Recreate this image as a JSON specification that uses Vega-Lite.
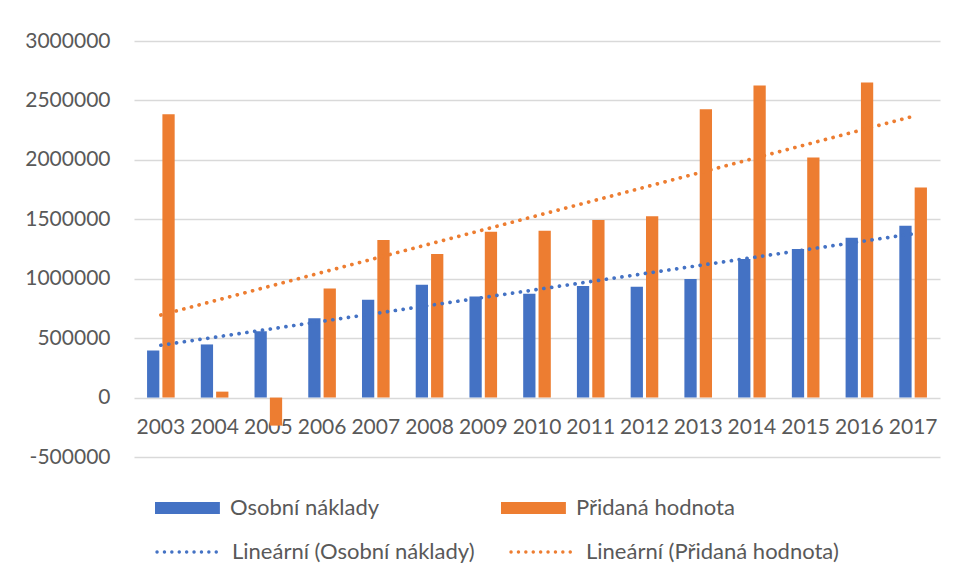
{
  "$schema": "https://vega.github.io/schema/vega-lite/v6.json",
  "width": 806,
  "height": 416,
  "autosize": {"type": "none"},
  "padding": {"left": 134, "top": 41, "right": 17, "bottom": 124},
  "background": "white",
  "config": {
    "view": {"stroke": null},
    "font": "Lato"
  },
  "data": {
    "values": [
      {"year": 2003, "series": "Osobní náklady", "value": 396000},
      {"year": 2004, "series": "Osobní náklady", "value": 447000},
      {"year": 2005, "series": "Osobní náklady", "value": 559000},
      {"year": 2006, "series": "Osobní náklady", "value": 668000},
      {"year": 2007, "series": "Osobní náklady", "value": 823000},
      {"year": 2008, "series": "Osobní náklady", "value": 949000},
      {"year": 2009, "series": "Osobní náklady", "value": 851000},
      {"year": 2010, "series": "Osobní náklady", "value": 873000},
      {"year": 2011, "series": "Osobní náklady", "value": 938000},
      {"year": 2012, "series": "Osobní náklady", "value": 932000},
      {"year": 2013, "series": "Osobní náklady", "value": 997000},
      {"year": 2014, "series": "Osobní náklady", "value": 1165000},
      {"year": 2015, "series": "Osobní náklady", "value": 1249000},
      {"year": 2016, "series": "Osobní náklady", "value": 1345000},
      {"year": 2017, "series": "Osobní náklady", "value": 1446000},
      {"year": 2003, "series": "Přidaná hodnota", "value": 2384000},
      {"year": 2004, "series": "Přidaná hodnota", "value": 50000},
      {"year": 2005, "series": "Přidaná hodnota", "value": -236000},
      {"year": 2006, "series": "Přidaná hodnota", "value": 918000},
      {"year": 2007, "series": "Přidaná hodnota", "value": 1325000},
      {"year": 2008, "series": "Přidaná hodnota", "value": 1207000},
      {"year": 2009, "series": "Přidaná hodnota", "value": 1396000},
      {"year": 2010, "series": "Přidaná hodnota", "value": 1404000},
      {"year": 2011, "series": "Přidaná hodnota", "value": 1494000},
      {"year": 2012, "series": "Přidaná hodnota", "value": 1525000},
      {"year": 2013, "series": "Přidaná hodnota", "value": 2426000},
      {"year": 2014, "series": "Přidaná hodnota", "value": 2626000},
      {"year": 2015, "series": "Přidaná hodnota", "value": 2019000},
      {"year": 2016, "series": "Přidaná hodnota", "value": 2651000},
      {"year": 2017, "series": "Přidaná hodnota", "value": 1767000}
    ]
  },
  "encoding": {
    "x": {
      "field": "year",
      "type": "ordinal",
      "scale": {"paddingInner": 0.486, "paddingOuter": 0.243},
      "axis": {
        "title": null,
        "labelAngle": 0,
        "ticks": false,
        "domain": false,
        "grid": false,
        "offset": -59.43,
        "labelPadding": 19,
        "labelFontSize": 21,
        "labelColor": "#595959",
        "labelFont": "Lato"
      }
    },
    "y": {
      "field": "value",
      "type": "quantitative",
      "scale": {"domain": [-500000, 3000000], "nice": false},
      "axis": {
        "title": null,
        "values": [-500000, 0, 500000, 1000000, 1500000, 2000000, 2500000, 3000000],
        "labelExpr": "'' + datum.value",
        "ticks": false,
        "domain": false,
        "labelPadding": 24,
        "labelFontSize": 21,
        "labelColor": "#595959",
        "labelFont": "Lato",
        "gridColor": "#D9D9D9",
        "gridWidth": 1.3
      }
    }
  },
  "layer": [
    {
      "mark": {"type": "bar"},
      "encoding": {
        "xOffset": {
          "field": "series",
          "type": "nominal",
          "sort": ["Osobní náklady", "Přidaná hodnota"],
          "scale": {"paddingInner": 0.2}
        },
        "fill": {
          "field": "series",
          "type": "nominal",
          "scale": {
            "domain": ["Osobní náklady", "Přidaná hodnota"],
            "range": ["#4472C4", "#ED7D31"]
          },
          "legend": {
            "title": null,
            "orient": "none",
            "direction": "horizontal",
            "legendX": 21,
            "legendY": 456,
            "columns": 2,
            "symbolType": "M-1,-0.55H4.9V0.55H-1Z",
            "symbolSize": 484,
            "symbolStrokeWidth": 0,
            "labelOffset": 53,
            "columnPadding": 121,
            "labelFontSize": 22,
            "labelFont": "Lato",
            "labelColor": "#595959",
            "labelLimit": 400
          }
        }
      }
    },
    {
      "transform": [
        {"filter": "datum.series === 'Osobní náklady'"},
        {"regression": "value", "on": "year"}
      ],
      "mark": {"type": "line", "strokeDash": [0.1, 7.8], "strokeCap": "round", "strokeWidth": 3.7},
      "encoding": {
        "stroke": {
          "datum": "Lineární (Osobní náklady)",
          "scale": {
            "domain": ["Lineární (Osobní náklady)", "Lineární (Přidaná hodnota)"],
            "range": ["#4472C4", "#ED7D31"]
          },
          "legend": {
            "title": null,
            "orient": "none",
            "direction": "horizontal",
            "legendX": 21,
            "legendY": 498,
            "columns": 2,
            "symbolType": "M-1,0H4.9",
            "symbolSize": 484,
            "symbolStrokeWidth": 3.4,
            "symbolDash": [0.1, 7.3],
            "labelOffset": 51,
            "columnPadding": 29,
            "labelFontSize": 22,
            "labelFont": "Lato",
            "labelColor": "#595959",
            "labelLimit": 400,
            "encode": {"symbols": {"update": {"strokeCap": {"value": "round"}}}}
          }
        }
      }
    },
    {
      "transform": [
        {"filter": "datum.series === 'Přidaná hodnota'"},
        {"regression": "value", "on": "year"}
      ],
      "mark": {"type": "line", "strokeDash": [0.1, 7.8], "strokeCap": "round", "strokeWidth": 3.7},
      "encoding": {
        "stroke": {"datum": "Lineární (Přidaná hodnota)"}
      }
    }
  ]
}
